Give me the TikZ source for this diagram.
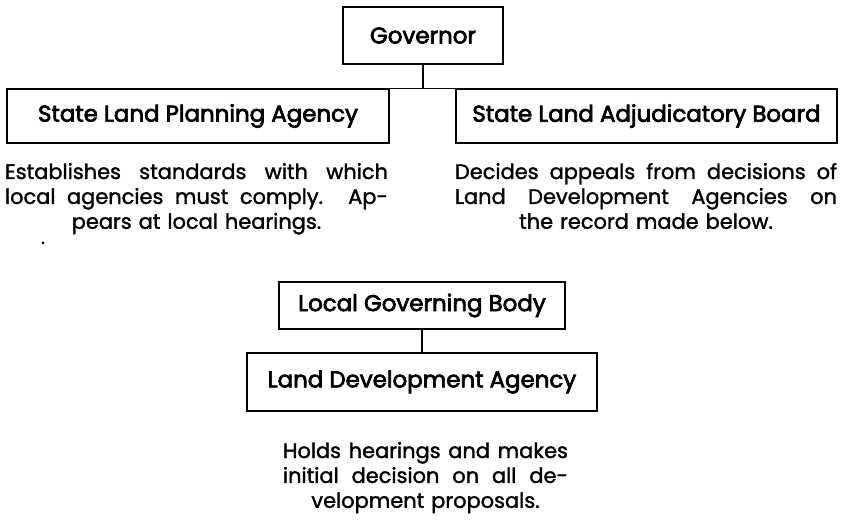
\documentclass[tikz,border=0pt]{standalone}
\usepackage{fontspec}
\setmainfont{Poppins}[FakeBold=1.5]
\newfontfamily\boxfont{Poppins}[FakeBold=3]
\newcommand\jline[2]{\makebox[#1][s]{\spaceskip=0pt\xspaceskip=0pt\relax #2}}
\begin{document}
\begin{tikzpicture}[x=1bp,y=-1bp,line width=1.4bp,
  box/.style={draw,inner sep=0pt,font=\boxfont\fontsize{23}{26}\selectfont},
  desc/.style={inner sep=0pt,anchor=base,align=center,font=\fontsize{21}{25}\selectfont}]
\useasboundingbox (0,0) rectangle (842,521);
\node[box,minimum width=160bp,minimum height=57bp] (gov) at (423,35.5) {Governor};
\node[box,minimum width=382bp,minimum height=54bp] (slpa) at (198,116) {State Land Planning Agency};
\node[box,minimum width=381bp,minimum height=54bp] (slab) at (646.5,116) {State Land Adjudicatory Board};
\node[box,minimum width=286bp,minimum height=47bp] (lgb) at (422,305.5) {Local Governing Body};
\node[box,minimum width=350bp,minimum height=58bp] (lda) at (422,382) {Land Development Agency};
\coordinate (j) at (gov.south |- slpa.north);
\draw (gov.south) -- (j);
\draw (slpa.north east) -- (slab.north west);
\draw (lgb.south) -- (lda.north);
\node[desc,text width=383bp] (d1) at (196.5,179)
  {\jline{383bp}{Establishes standards with which}\\
   \jline{383bp}{local agencies must comply. Ap-}\\
   pears at local hearings.};
\node[desc,text width=382bp] (d2) at (646,179)
  {\jline{382bp}{Decides appeals from decisions of}\\
   \jline{382bp}{Land Development Agencies on}\\
   the record made below.};
\node[desc,text width=285bp] (d3) at (425.5,458)
  {\jline{285bp}{Holds hearings and makes}\\
   \jline{285bp}{initial decision on all de-}\\
   velopment proposals.};
\node[circle,fill,inner sep=0pt,minimum size=3bp] (dot) at (43,243) {};
\end{tikzpicture}
\end{document}
